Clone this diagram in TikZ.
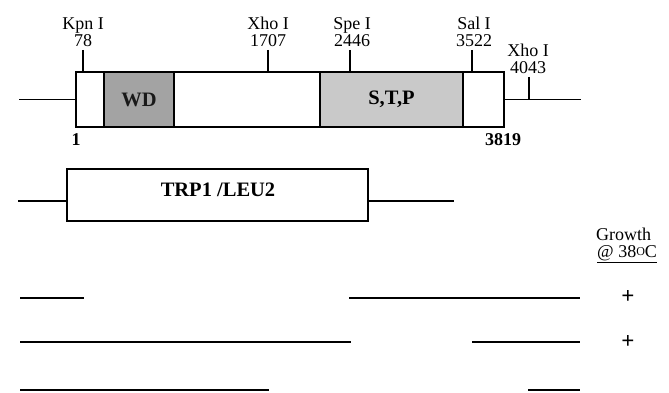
\documentclass[tikz,border=0pt]{standalone}
\usepackage{fontspec}
\setmainfont{Liberation Serif}
\begin{document}
\begin{tikzpicture}[x=1pt,y=-1pt,
  ln/.style={line width=1.4pt},
  seg/.style={draw, line width=1.4pt, inner sep=0pt, outer sep=0pt, anchor=north west},
  lab/.style={font=\fontsize{18}{16.5}\selectfont, align=center, inner sep=0pt},
  glab/.style={font=\fontsize{18}{18}\selectfont, inner sep=0pt},
  blab/.style={font=\fontsize{18}{18}\selectfont\bfseries, inner sep=0pt},
  bigb/.style={font=\fontsize{20.5}{20.5}\selectfont\bfseries, inner sep=0pt},
  plus/.style={font=\fontsize{23}{23}\selectfont\bfseries, inner sep=0pt}]
\useasboundingbox (0,0) rectangle (669,393);
% top gene
\node[seg, fill=white, minimum width=428pt, minimum height=55pt] (gene) at (76,72) {};
\node[seg, fill=gray!72, minimum width=70pt, minimum height=55pt] (wd) at (104,72) {};
\node[seg, fill=gray!42, minimum width=143pt, minimum height=55pt] (stp) at (320,72) {};
\node[bigb, text=black!90] (wdt) at (wd.center) {WD};
\node[bigb] (stpt) at (stp.center) {S,T,P};
\coordinate (l0) at (19,99.5);
\coordinate (r0) at (581,99.5);
\draw[ln] (l0) -- (gene.west);
\draw[ln] (gene.east) -- (r0);
% sites
\coordinate (k1) at (83,50); \coordinate (k2) at (83,72);
\coordinate (x1) at (268,50); \coordinate (x2) at (268,72);
\coordinate (s1) at (350,50); \coordinate (s2) at (350,72);
\coordinate (a1) at (472,50); \coordinate (a2) at (472,72);
\coordinate (h1) at (529,77); \coordinate (h2) at (529,99.5);
\foreach \p in {k,x,s,a,h} \draw[ln] (\p1) -- (\p2);
\node[lab, anchor=south] (kl) at (83,46.5) {Kpn I\\78};
\node[lab, anchor=south] (xl) at (268,46.5) {Xho I\\1707};
\node[lab, anchor=south] (sl) at (352,46.5) {Spe I\\2446};
\node[lab, anchor=south] (al) at (474,46.5) {Sal I\\3522};
\node[lab, anchor=south] (hl) at (528,73.5) {Xho I\\4043};
\node[blab] (one) at (76,140) {1};
\node[blab] (end) at (503,140) {3819};
% TRP1/LEU2
\node[seg, fill=white, minimum width=301pt, minimum height=52pt] (trp) at (67,169) {};
\node[bigb] (trpt) at (218,189.5) {TRP1 /LEU2};
\coordinate (tl) at (18,201); \coordinate (tr) at (454,201);
\draw[ln] (tl) -- (tl -| trp.west);
\draw[ln] (tr -| trp.east) -- (tr);
% growth
\node[glab, anchor=base west] (gr) at (596,240) {Growth};
\node[glab, anchor=base west] (gt) at (597,257.5) {\underline{@ 38\raisebox{0.3ex}{\fontsize{12}{12}\selectfont O}C}};
% deletions
\coordinate (a1l) at (20,298); \coordinate (a1r) at (84,298);
\coordinate (a2l) at (349,298); \coordinate (a2r) at (580,298);
\coordinate (b1l) at (20,342); \coordinate (b1r) at (351,342);
\coordinate (b2l) at (472,342); \coordinate (b2r) at (580,342);
\coordinate (c1l) at (20,390); \coordinate (c1r) at (269,390);
\coordinate (c2l) at (528,390); \coordinate (c2r) at (580,390);
\draw[ln] (a1l) -- (a1r); \draw[ln] (a2l) -- (a2r);
\draw[ln] (b1l) -- (b1r); \draw[ln] (b2l) -- (b2r);
\draw[ln] (c1l) -- (c1r); \draw[ln] (c2l) -- (c2r);
\node[plus] (p1) at (628,297) {+};
\node[plus] (p2) at (628,342) {+};
\end{tikzpicture}
\end{document}
